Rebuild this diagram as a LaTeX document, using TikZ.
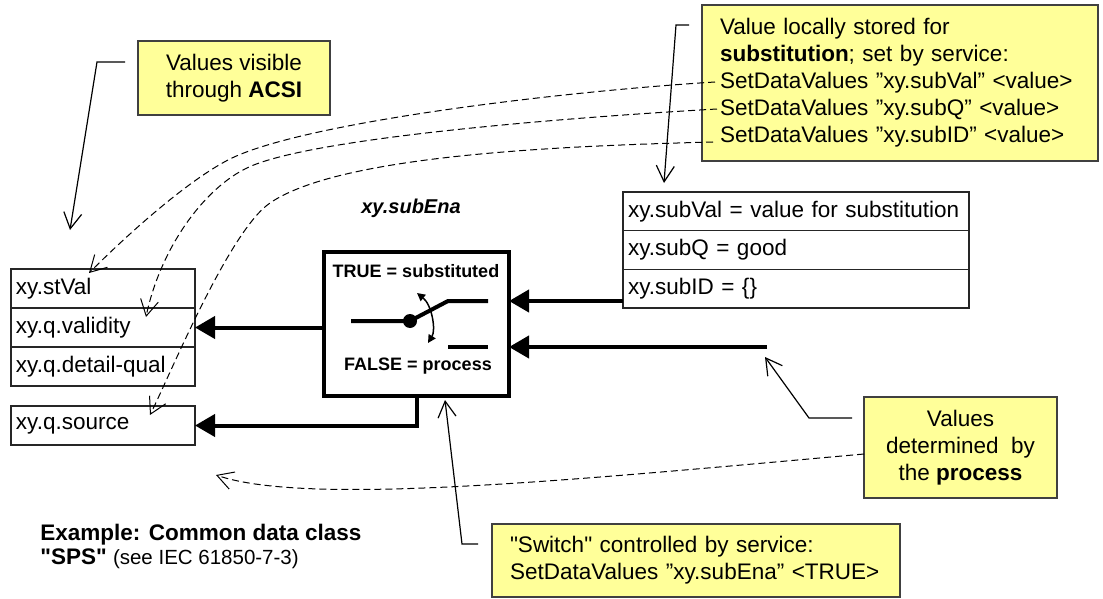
\documentclass[tikz,border=0pt]{standalone}
\usepackage{fontspec}
\setmainfont{Liberation Sans}
\usepackage{xcolor}
\usetikzlibrary{positioning,arrows.meta}
\definecolor{notefill}{RGB}{255,255,153}

\begin{document}
\begin{tikzpicture}[x=0.5pt,y=-0.5pt,
    font=\fontsize{11.25}{13.5}\selectfont,
    cell/.style={draw=black!85, line width=0.7pt, outer sep=0pt, inner xsep=2.5pt, align=left},
    lcell/.style={cell, text width=87pt, minimum height=19.5pt},
    rcell/.style={cell, text width=168pt, minimum height=19.33pt},
    note/.style={draw=black!75, line width=0.8pt, fill=notefill, outer sep=0pt},
    swlab/.style={font=\fontsize{9}{11}\selectfont\bfseries, inner sep=0pt},
    bus/.style={line width=2pt, -{Triangle[length=10pt,width=11pt]}},
    flow/.style={dash pattern=on 3.5pt off 2pt, line width=0.5pt, -{Straight Barb[length=8pt,width=9pt]}},
    lead/.style={line width=0.6pt, -{Straight Barb[length=8pt,width=9pt]}}]
                \useasboundingbox (0,0) rectangle (1103,599);

                % data attributes seen through ACSI
                \node[lcell] (stval) at (103,288.5) {xy.stVal};
                \node[lcell, below=0pt of stval] (valid)  {xy.q.validity};
                \node[lcell, below=0pt of valid] (detail) {xy.q.detail-qual};
                \node[lcell] (source) at (103,425.5) {xy.q.source};

                % locally stored substitution values
                \node[rcell] (subval) at (796,211.3) {xy.subVal = value for substitution};
                \node[rcell, below=0pt of subval] (subq)  {xy.subQ = good};
                \node[rcell, below=0pt of subq]   (subid) {xy.subID = \{\}};

                % switch
                \node[font=\bfseries\itshape] (subena) at (411,208) {xy.subEna};
                \node[draw, line width=2pt, outer sep=0pt, minimum width=92.5pt, minimum height=72pt] (sw) at (416.5,324) {};
                \node[swlab] (tlab) at (416,271) {TRUE = substituted};
                \node[swlab] (flab) at (418,366) {FALSE = process};

                \coordinate (pin)   at (351,321);
                \coordinate (pivot) at (410,321);
                \coordinate (knee)  at (448,301);
                \coordinate (tc)    at (488,301);
                \coordinate (fc0)   at (448,347);
                \coordinate (fc)    at (488,347);
                \coordinate (proc)  at (767,347);

                \draw[line width=2pt] (pin) -- (pivot) -- (knee) -- (tc);
                \draw[line width=2pt] (fc0) -- (fc);
                \fill (pivot) circle (3.5pt);
                \draw[line width=0.75pt, {Triangle[length=4pt,width=4pt]}-{Triangle[length=4pt,width=4pt]}]
                (417,293) .. controls (432,305) and (436,330) .. (428,343);

                \draw[bus] (subid.west |- tc) -- (sw.east |- tc);
                \draw[bus] (proc) -- (sw.east |- proc);
                \draw[bus] (sw.west |- valid) -- (valid.east);
                \draw[bus] (sw.south) |- (source.east);

                % notes
                \node[note, minimum width=96pt, minimum height=37pt, align=center] (acsi) at (234,78)
                {Values visible\\through \textbf{ACSI}};
                \node[note, text width=180pt, inner xsep=9pt, minimum height=78pt, align=left] (store) at (900,83)
                {Value locally stored for\\\textbf{substitution}; set by service:\\SetDataValues ”xy.subVal” <value>\\SetDataValues ”xy.subQ” <value>\\SetDataValues ”xy.subID” <value>};
                \node[note, minimum width=96.5pt, minimum height=50.5pt, align=center] (pval) at (960.5,447.5)
                {Values\\determined\ \ by\\the \textbf{process}};
                \node[note, text width=186pt, inner xsep=9pt, minimum height=36.5pt, align=left] (swnote) at (696,560.5)
                {\textquotedbl Switch\textquotedbl{} controlled by service:\\SetDataValues ”xy.subEna” <TRUE>};

                \node[anchor=west, align=left, inner sep=0pt] (caption) at (40,546)
                {\textbf{Example: Common data class}\\[-1.5pt]\textbf{\textquotedbl SPS\textquotedbl} {\fontsize{10.25}{12}\selectfont (see IEC 61850-7-3)}};

                % leaders
                \draw[lead] (125,62) -- (97,62) -- (70,230);
                \draw[lead] (689,25) -- (676,25) -- (664,183);
                \draw[lead] (852,418) -- (809,418) -- (765,357);
                \draw[lead] (478,544) -- (462,544) -- (445,400);

                % services and process values
                \draw[flow] (715,82) .. controls (555,92) and (299,123) .. (228,160)
                .. controls (184,183) and (124,238) .. (89,273);
                \draw[flow] (717,109) .. controls (560,118) and (313,138) .. (249,167)
                .. controls (203,188) and (160,250) .. (146,317);
                \draw[flow] (713,142) .. controls (560,146) and (340,155) .. (270,203)
                .. controls (229,231) and (170,375) .. (150,415);
                \draw[flow] (864,454) .. controls (564,481) and (306,506) .. (216,475);
            \end{tikzpicture}
\end{document}
